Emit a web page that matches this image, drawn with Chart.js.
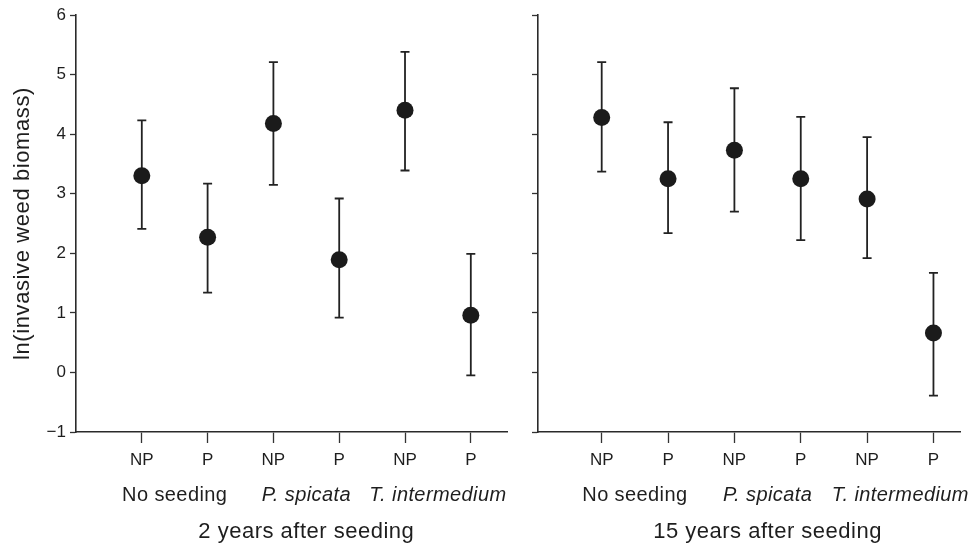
<!DOCTYPE html>
<html>
<head>
<meta charset="utf-8">
<script src="https://cdn.jsdelivr.net/npm/chart.js@4.4.0/dist/chart.umd.min.js"></script>
<style>
  html, body { margin: 0; padding: 0; background: #fff; }
  #wrap { position: relative; width: 972px; height: 544px; }
  .panel { position: absolute; top: 0; height: 544px; }
  #left { left: 0; width: 520px; }
  #right { left: 520px; width: 452px; }
</style>
</head>
<body>
<div id="wrap">
  <div class="panel" id="left"><canvas id="chart2"></canvas></div>
  <div class="panel" id="right"><canvas id="chart15"></canvas></div>
</div>
<script>
// values (ln of invasive weed biomass, mean and error bar ends)
const treatments = ['NP', 'P', 'NP', 'P', 'NP', 'P'];
const groupNames = ['No seeding', 'P. spicata', 'T. intermedium'];
const groupItalic = [false, true, true];

const mean2yr = [3.30, 2.27, 4.18, 1.89, 4.40, 0.96];
const low2yr = [2.41, 1.34, 3.15, 0.92, 3.39, -0.05];
const high2yr = [4.23, 3.17, 5.21, 2.92, 5.38, 1.99];

const mean15yr = [4.28, 3.25, 3.73, 3.25, 2.91, 0.66];
const low15yr = [3.37, 2.34, 2.70, 2.22, 1.92, -0.39];
const high15yr = [5.21, 4.20, 4.77, 4.29, 3.95, 1.67];

const yTitle = 'ln(invasive weed biomass)';
const FONT = '"Liberation Sans", Arial, Helvetica, sans-serif';
const INK = '#1e1e1e';

Chart.defaults.font.family = FONT;
Chart.defaults.color = INK;

// error bars go under the dots
const errorBars = {
  id: 'errorBars',
  beforeDatasetsDraw(chart, args, opts) {
    const {ctx, scales: {x, y}} = chart;
    ctx.save();
    ctx.strokeStyle = '#222';
    ctx.lineWidth = 1.8;
    opts.low.forEach((lo, i) => {
      const px = x.getPixelForValue(i + 1);
      const yl = y.getPixelForValue(lo);
      const yh = y.getPixelForValue(opts.high[i]);
      ctx.beginPath();
      ctx.moveTo(px, yl); ctx.lineTo(px, yh);
      ctx.moveTo(px - 4.5, yl); ctx.lineTo(px + 4.5, yl);
      ctx.moveTo(px - 4.5, yh); ctx.lineTo(px + 4.5, yh);
      ctx.stroke();
    });
    ctx.restore();
  }
};

// group names under the NP/P ticks, panel title, y title
const labels = {
  id: 'labels',
  afterDraw(chart, args, opts) {
    const {ctx, scales: {x, y}} = chart;
    ctx.save();
    ctx.fillStyle = INK;
    ctx.textAlign = 'center';
    ctx.textBaseline = 'alphabetic';
    ctx.letterSpacing = '0.4px';
    groupNames.forEach((g, i) => {
      ctx.font = (groupItalic[i] ? 'italic ' : '') + '20px ' + FONT;
      ctx.fillText(g, x.getPixelForValue(2 * i + 1.5), x.top + 69);
    });
    ctx.font = '22px ' + FONT;
    ctx.letterSpacing = '0.5px';
    ctx.fillText(opts.title, x.getPixelForValue(3.5), x.top + 106);
    if (opts.showYTitle) {
      ctx.translate(23, (y.top + y.bottom) / 2);
      ctx.rotate(-Math.PI / 2);
      ctx.textBaseline = 'middle';
      ctx.letterSpacing = '0.6px';
      ctx.fillText(yTitle, 0, 0);
    }
    ctx.restore();
  }
};

const makeChart = (id, mean, low, high, o) => {
  const ctx = document.getElementById(id).getContext('2d');
  return new Chart(ctx, {
    type: 'scatter',
    data: {
      datasets: [{
        data: mean.map((v, i) => ({x: i + 1, y: v})),
        backgroundColor: '#1b1b1b',
        borderWidth: 0,
        pointRadius: 8.5,
        pointHoverRadius: 8.5
      }]
    },
    options: {
      responsive: true,
      maintainAspectRatio: false,
      animation: false,
      events: [],
      layout: {padding: {top: 15, right: o.padRight, left: 0, bottom: 0}},
      plugins: {
        legend: {display: false},
        tooltip: {enabled: false},
        errorBars: {low, high},
        labels: {title: o.title, showYTitle: o.showYTitle}
      },
      scales: {
        x: {
          type: 'linear',
          min: o.xMin,
          max: o.xMax,
          afterBuildTicks: s => { s.ticks = treatments.map((t, i) => ({value: i + 1})); },
          afterFit: s => { s.height = 112; },
          ticks: {
            autoSkip: false,
            maxRotation: 0,
            padding: 7,
            color: INK,
            font: {size: 17},
            callback: v => treatments[v - 1] || ''
          },
          grid: {drawOnChartArea: false, drawTicks: true, tickLength: 11, tickColor: '#333', tickWidth: 1.3},
          border: {display: true, color: '#2a2a2a', width: 1.6}
        },
        y: {
          min: -1,
          max: 6,
          afterFit: s => { s.width = o.yWidth; },
          ticks: {
            stepSize: 1,
            padding: 4,
            color: o.showYTitle ? INK : 'rgba(0,0,0,0)',
            font: {size: 17},
            callback: v => v < 0 ? '\u2212' + Math.abs(v) : String(v)
          },
          grid: {drawOnChartArea: false, drawTicks: true, tickLength: 6, tickColor: '#333', tickWidth: 1.3},
          border: {display: true, color: '#2a2a2a', width: 1.6}
        }
      }
    },
    plugins: [errorBars, labels]
  });
};

makeChart('chart2', mean2yr, low2yr, high2yr,
  {title: '2 years after seeding', showYTitle: true, xMin: 0, xMax: 6.55, yWidth: 76, padRight: 13});
makeChart('chart15', mean15yr, low15yr, high15yr,
  {title: '15 years after seeding', showYTitle: false, xMin: 0.04, xMax: 6.4, yWidth: 18, padRight: 12});
</script>
</body>
</html>
